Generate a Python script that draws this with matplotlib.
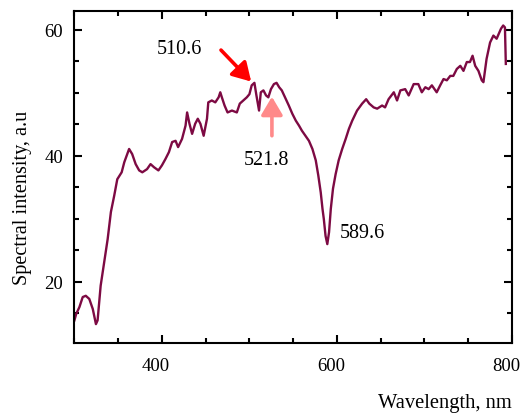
import matplotlib
matplotlib.use("Agg")
import matplotlib.pyplot as plt
import matplotlib.transforms as mtransforms
from matplotlib.ticker import MultipleLocator

# spectrum (wavelength nm, intensity a.u.)
wavelength = [300, 302, 305.7, 309.5, 313, 317, 321, 324.6, 326.5, 330, 334, 338, 341.7, 345.5,
              349, 354, 357, 362.5, 366, 370, 374, 377.6, 383, 387, 391, 396, 400, 404, 408,
              411.7, 415.6, 418.5, 423, 427, 428.8, 431.5, 434.5, 438, 441, 444, 447.7, 451.5,
              453, 457, 461, 464.8, 466.7, 468.5, 471.6, 475, 480, 485.6, 489, 493, 497, 500,
              502.6, 505.7, 508, 511, 513, 516, 519, 521.6, 524.6, 528, 531, 534, 537, 541.6,
              545, 549, 553, 556.7, 560, 564, 568, 572, 575.8, 578.7, 581.5, 583.5, 585, 587,
              589, 591, 593, 595.5, 598.5, 602, 606, 610, 613.7, 617.5, 623, 628.8, 633.4, 637,
              642, 646, 651.6, 655, 659, 665, 668.7, 672.5, 678, 682, 687.7, 693, 697, 701,
              704.8, 708.5, 714, 718, 721.8, 725.6, 729.5, 733, 737, 741, 744.6, 748.4, 752,
              755, 758, 761.7, 765.5, 767.4, 771, 775, 778.8, 782.5, 785, 787.5, 790, 792, 793]
intensity = [13.9, 14.9, 16.0, 17.6, 17.8, 17.3, 15.7, 13.3, 13.9, 19.4, 23.1, 26.8, 31.1, 33.7,
             36.3, 37.4, 39.0, 41.1, 40.3, 38.7, 37.7, 37.4, 37.9, 38.7, 38.2, 37.7, 38.5, 39.5, 40.6,
             42.2, 42.4, 41.4, 42.7, 44.8, 46.9, 45.1, 43.5, 45.1, 45.9, 45.1, 43.2, 45.9,
             48.5, 48.8, 48.5, 49.3, 50.1, 49.3, 48.0, 46.9, 47.2, 46.9, 48.3, 48.8, 49.3, 49.8,
             51.2, 51.6, 49.6, 47.2, 50.1, 50.4, 49.6, 49.3, 50.6, 51.4, 51.6, 50.9, 50.4, 49.0,
             48.0, 46.7, 45.6, 44.8, 44.0, 43.2, 42.4, 41.1, 39.3, 36.9, 34.2, 31.6, 30.0, 27.3,
             26.0, 27.9, 31.6, 34.8, 37.1, 39.3, 41.1, 42.7, 44.3, 45.6, 47.2, 48.3, 49.0, 48.3,
             47.7, 47.5, 48.0, 47.7, 49.0, 50.1, 48.8, 50.4, 50.6, 49.6, 51.4, 51.4, 50.1, 50.9,
             50.6, 51.2, 50.1, 51.2, 52.2, 52.0, 52.7, 52.7, 53.8, 54.3, 53.5, 54.9, 54.9,
             55.9, 54.3, 53.5, 52.0, 51.7, 55.4, 58.0, 59.1, 58.6, 59.4, 60.2, 60.7, 60.4, 54.6]

peak_labels = ["510.6", "521.8", "589.6"]
peak_label_pos = [(420, 57.0), (520, 39.5), (629, 27.9)]

plt.rcParams["font.family"] = ["Liberation Serif", "DejaVu Serif"]

fig = plt.figure(figsize=(5.24, 4.14), dpi=100)
ax = fig.add_axes([0.142, 0.169, 0.835, 0.802])

ax.plot(wavelength, intensity, color="#7d0a43", linewidth=1.7)

ax.set_xlim(300, 800)
ax.set_ylim(10.3, 63)
ax.xaxis.set_major_locator(MultipleLocator(200))
ax.xaxis.set_minor_locator(MultipleLocator(50))
ax.yaxis.set_major_locator(MultipleLocator(20))
ax.yaxis.set_minor_locator(MultipleLocator(5))
ax.tick_params(which="both", direction="in", top=True, right=True, width=1.5, labelsize=13.5)
ax.tick_params(which="major", length=6)
ax.tick_params(which="minor", length=3.5)
ax.tick_params(axis="x", which="major", pad=10)
ax.tick_params(axis="y", which="major", pad=8)
for s in ax.spines.values():
    s.set_linewidth(1.5)

# x tick labels sit a little left of their ticks in the original
shift = mtransforms.ScaledTranslation(-6 / 100, 0, fig.dpi_scale_trans)
for lbl in ax.get_xticklabels():
    lbl.set_transform(lbl.get_transform() + shift)

ax.set_xlabel("Wavelength, nm", fontsize=14.8, ha="right")
ax.xaxis.set_label_coords(1.0, -0.15)
ax.set_ylabel("Spectral intensity, a.u", fontsize=14.6)
ax.yaxis.set_label_coords(-0.097, 0.44)

for txt, (x, y) in zip(peak_labels, peak_label_pos):
    ax.text(x, y, txt, fontsize=14.5, ha="center", va="center")

arrow_style = "-|>,head_length=1.1,head_width=0.65"
ax.annotate("", xy=(502, 51.8), xytext=(467.5, 56.8),
            arrowprops=dict(arrowstyle=arrow_style, color="#ff0000", lw=2.6,
                            shrinkA=0, shrinkB=0))
ax.annotate("", xy=(525.7, 49.4), xytext=(525.7, 43.2),
            arrowprops=dict(arrowstyle=arrow_style, color="#ff8a8a", lw=2.6,
                            shrinkA=0, shrinkB=0))

fig.savefig("out.png", dpi=100)
